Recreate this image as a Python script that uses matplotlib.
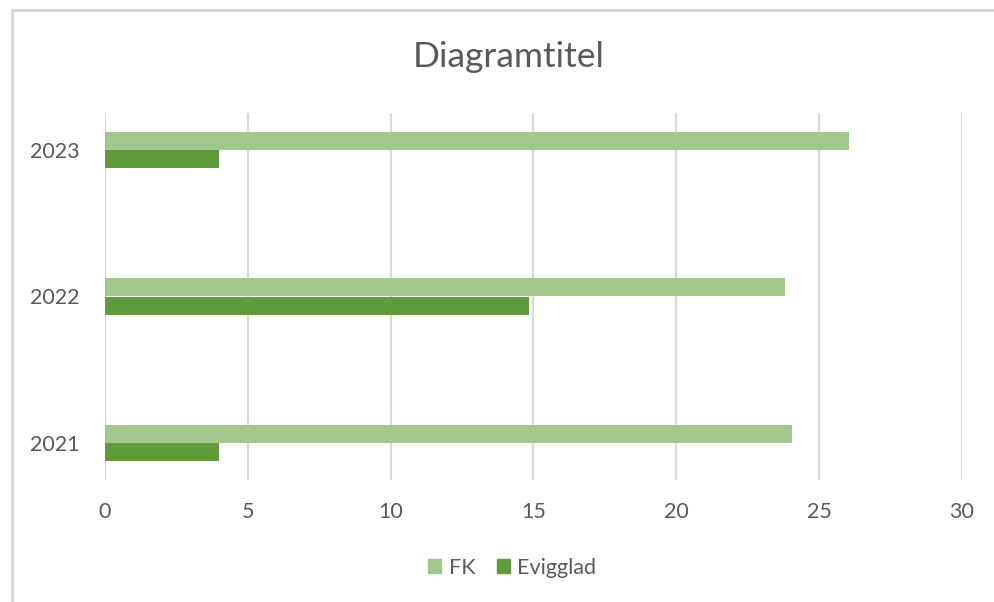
import matplotlib
matplotlib.use("Agg")
import matplotlib.pyplot as plt
from matplotlib.lines import Line2D
import numpy as np

plt.rcParams['font.family'] = ['Lato', 'DejaVu Sans']

categories = ["2021", "2022", "2023"]
fk = [24.05, 23.8, 26.05]
evigglad = [4.0, 14.85, 4.0]
series_names = ["FK", "Evigglad"]
x_ticks = [0, 5, 10, 15, 20, 25, 30]
title = "Diagramtitel"

c_fk = "#A1C78E"
c_ev = "#5F9B3A"
txt = "#595959"

fig = plt.figure(figsize=(9.95, 6.02), dpi=100)
ax = fig.add_axes([0.1055, 0.2027, 0.8613, 0.6096])

y = np.arange(len(categories))
h = 0.124
ax.barh(y + 0.064, fk, height=h, color=c_fk, label=series_names[0], zorder=3)
ax.barh(y - 0.064, evigglad, height=h, color=c_ev, label=series_names[1], zorder=3)

ax.set_xlim(0, 30)
ax.set_ylim(-0.2526, 2.2526)
ax.set_xticks(x_ticks)
ax.set_xticklabels([str(t) for t in x_ticks])
ax.set_yticks(y)
ax.set_yticklabels(categories)
ax.tick_params(axis='both', length=0, labelsize=15.5, labelcolor=txt)
ax.tick_params(axis='x', pad=16)
ax.tick_params(axis='y', pad=18)
ax.xaxis.grid(True, color="#d9d9d9", linewidth=1.6, zorder=0)
ax.set_axisbelow(True)
for s in ax.spines.values():
    s.set_visible(False)

fig.text(0.511, 0.905, title, ha='center', va='center', fontsize=25.5, color=txt)

handles = [plt.Rectangle((0, 0), 1, 1, color=c_fk), plt.Rectangle((0, 0), 1, 1, color=c_ev)]
fig.legend(handles, series_names, loc='center', bbox_to_anchor=(0.515, 0.057),
           ncol=2, frameon=False, fontsize=15.5, labelcolor=txt,
           handlelength=0.6, handleheight=0.6, handletextpad=0.35, columnspacing=1.0)

# chart border (top and left visible)
fig.add_artist(Line2D([0.012, 1.0], [1 - 10/602, 1 - 10/602], transform=fig.transFigure,
                      color="#d9d9d9", linewidth=2.2))
fig.add_artist(Line2D([0.012, 0.012], [0, 1 - 10/602], transform=fig.transFigure,
                      color="#d9d9d9", linewidth=2.2))

fig.savefig("out.png", dpi=100, facecolor="white")
